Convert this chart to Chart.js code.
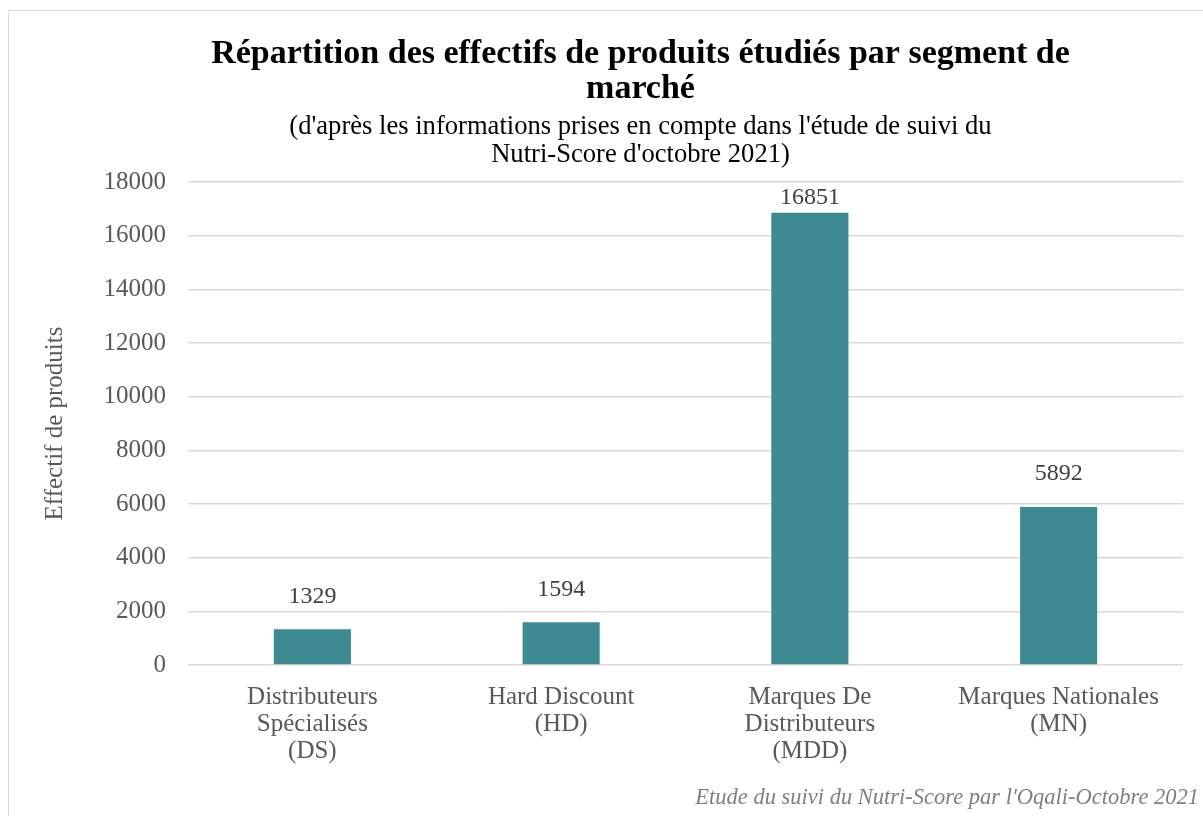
<!DOCTYPE html>
<html>
<head>
<meta charset="utf-8">
<script src="https://cdn.jsdelivr.net/npm/chart.js@4/dist/chart.umd.min.js"></script>
<style>
  html, body { margin: 0; padding: 0; background: #fff; }
  #frame { position: absolute; left: 8px; top: 10px; width: 1200px; height: 810px; border: 1px solid #d9d9d9; }
  #wrap { position: absolute; left: 0; top: 0; width: 1203px; height: 816px; }
</style>
</head>
<body>
<div id="frame"></div>
<div id="wrap"><canvas id="canvas" width="1203" height="816"></canvas></div>
<script>
// chart data
const categories = [
  ['Distributeurs', 'Spécialisés', '(DS)'],
  ['Hard Discount', '(HD)'],
  ['Marques De', 'Distributeurs', '(MDD)'],
  ['Marques Nationales', '(MN)']
];
const effectifs = [1329, 1594, 16851, 5892];
const yTicks = [0, 2000, 4000, 6000, 8000, 10000, 12000, 14000, 16000, 18000];

const serif = "'Liberation Serif', 'DejaVu Serif', serif";
const grey = '#595959';

// value labels above the bars
const valueLabels = {
  id: 'valueLabels',
  afterDatasetsDraw(chart) {
    const ctx = chart.ctx;
    const meta = chart.getDatasetMeta(0);
    ctx.save();
    ctx.font = '24px ' + serif;
    ctx.fillStyle = '#404040';
    ctx.textAlign = 'center';
    ctx.textBaseline = 'middle';
    meta.data.forEach((bar, i) => {
      const y = Math.max(bar.y - 33, chart.chartArea.top + 16);
      ctx.fillText(String(effectifs[i]), bar.x, y);
    });
    ctx.restore();
  }
};

// the titles sit a bit right of the canvas centre in the original
const shiftTitles = {
  id: 'shiftTitles',
  afterLayout(chart) {
    chart.boxes.forEach(box => {
      if (box.position === 'top' && box.options && box.options.text !== undefined) {
        box.left += 34;
        box.right += 34;
      }
    });
  }
};

// source note bottom right
const footerNote = {
  id: 'footerNote',
  afterDraw(chart) {
    const ctx = chart.ctx;
    ctx.save();
    ctx.font = 'italic 22.5px ' + serif;
    ctx.fillStyle = '#7f7f7f';
    ctx.textAlign = 'right';
    ctx.textBaseline = 'middle';
    ctx.fillText("Etude du suivi du Nutri-Score par l'Oqali-Octobre 2021", chart.width - 4, 798);
    ctx.restore();
  }
};

new Chart(document.getElementById('canvas'), {
  type: 'bar',
  data: {
    labels: categories,
    datasets: [{
      label: 'Effectif de produits',
      data: effectifs,
      backgroundColor: '#3d8b91',
      barPercentage: 0.31,
      categoryPercentage: 1
    }]
  },
  options: {
    responsive: false,
    animation: false,
    devicePixelRatio: 1,
    layout: { padding: { top: 0, left: 30, right: 20, bottom: 46 } },
    plugins: {
      legend: { display: false },
      tooltip: { enabled: false },
      title: {
        display: true,
        text: ['Répartition des effectifs de produits étudiés par segment de', 'marché'],
        color: '#000',
        font: { family: serif, size: 34, weight: 'bold', lineHeight: 35 / 34 },
        padding: { top: 37, bottom: 0 }
      },
      subtitle: {
        display: true,
        text: ["(d'après les informations prises en compte dans l'étude de suivi du", "Nutri-Score d'octobre 2021)"],
        color: '#000',
        font: { family: serif, size: 26.6, lineHeight: 28 / 26.6 },
        padding: { top: 6, bottom: 13 }
      }
    },
    scales: {
      x: {
        grid: { display: false },
        border: { display: false },
        ticks: {
          color: grey,
          font: { family: serif, size: 25, lineHeight: 27 / 25 },
          maxRotation: 0,
          padding: 11
        },
        afterFit(scale) { scale.height = 105; }
      },
      y: {
        min: 0,
        max: 18000,
        afterBuildTicks(scale) { scale.ticks = yTicks.map(v => ({ value: v })); },
        grid: { color: '#d9d9d9', lineWidth: 1.5, drawTicks: false },
        border: { display: false },
        ticks: {
          color: grey,
          font: { family: serif, size: 25 },
          padding: 22,
          callback: (v) => String(v)
        },
        title: {
          display: true,
          text: 'Effectif de produits',
          color: grey,
          font: { family: serif, size: 25 },
          padding: { top: 10, bottom: 10 }
        },
        afterFit(scale) { scale.width = 158; }
      }
    }
  },
  plugins: [valueLabels, shiftTitles, footerNote]
});
</script>
</body>
</html>
